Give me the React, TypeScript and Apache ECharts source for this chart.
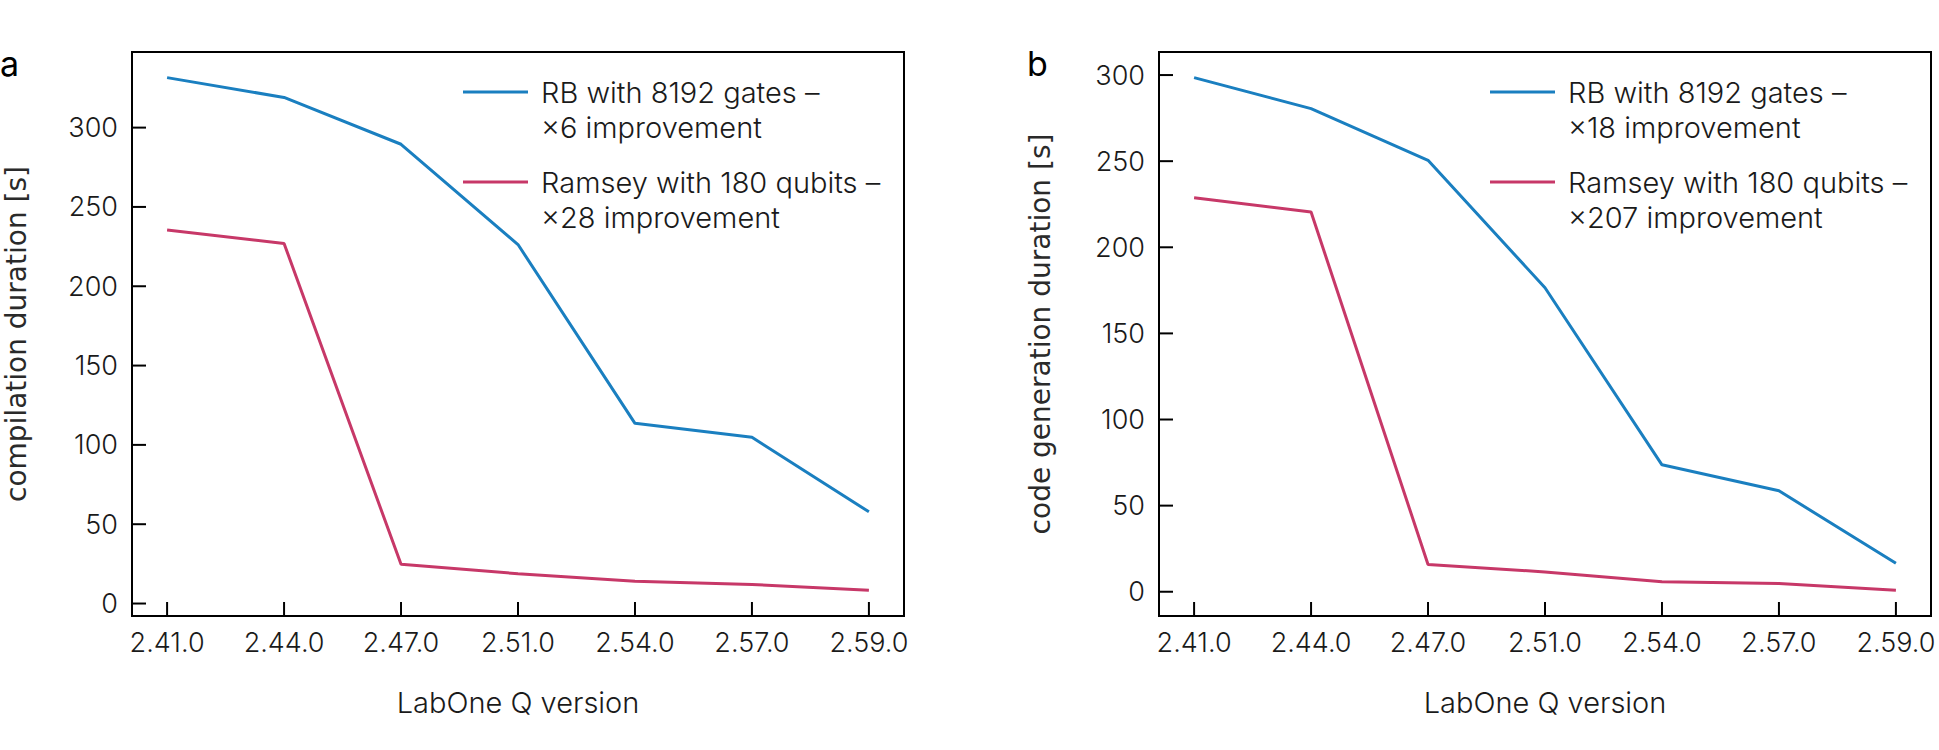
import React, { useEffect, useRef } from "react";
import * as echarts from "echarts";

const versions = ["2.41.0", "2.44.0", "2.47.0", "2.51.0", "2.54.0", "2.57.0", "2.59.0"];
const compileRB = [331.5, 319, 289.5, 226.3, 113.6, 104.8, 57.8];
const compileRamsey = [235.5, 227, 24.7, 18.8, 14, 12, 8.3];
const codegenRB = [298.5, 280.5, 250.5, 176.5, 73.7, 58.6, 16.5];
const codegenRamsey = [228.8, 220.5, 15.8, 11.5, 5.8, 4.8, 0.8];
const yTicks = [0, 50, 100, 150, 200, 250, 300];
const legendA = ["RB with 8192 gates –\n×6 improvement", "Ramsey with 180 qubits –\n×28 improvement"];
const legendB = ["RB with 8192 gates –\n×18 improvement", "Ramsey with 180 qubits –\n×207 improvement"];
const yNames = ["compilation duration [s]", "code generation duration [s]"];
const xName = "LabOne Q version";
const panelLabels = ["a", "b"];

const BLUE = "#1a7fc0";
const RED = "#c73868";
const FONT = "Inter, Roboto, sans-serif";
const YFONT = "'DejaVu Sans', sans-serif";
const TXT = "#1a1a1a";
const TICK_LEN = 14;

function range(a: number[], b: number[]) {
  const all = a.concat(b);
  const mn = Math.min(...all);
  const mx = Math.max(...all);
  const m = (mx - mn) * 0.05;
  return [mn - m, mx + m];
}

export default function App() {
  const ref = useRef<HTMLDivElement>(null);
  useEffect(() => {
    if (!ref.current) return;
    const chart = echarts.init(ref.current, undefined, { renderer: "svg" });
    const panels = [
      { left: 132, rb: compileRB, ram: compileRamsey, names: legendA, yName: yNames[0], gap: 102 },
      { left: 1159, rb: codegenRB, ram: codegenRamsey, names: legendB, yName: yNames[1], gap: 105 },
    ];
    const grids: any[] = [];
    const xAxes: any[] = [];
    const yAxes: any[] = [];
    const series: any[] = [];
    const legends: any[] = [];
    const ranges: number[][] = [];
    const xTicks = versions.map((_, i) => i);
    panels.forEach((p, k) => {
      grids.push({
        left: p.left, top: 52, width: 772, height: 564,
        show: true, borderColor: "#000", borderWidth: 2, backgroundColor: "transparent",
      });
      xAxes.push({
        gridIndex: k, type: "value", min: -0.3, max: 6.3,
        axisLine: { show: false, onZero: false },
        splitLine: { show: false },
        axisTick: { show: false },
        axisLabel: {
          customValues: xTicks, formatter: (v: number) => versions[Math.round(v)] ?? "",
          fontFamily: FONT, fontSize: 27, fontWeight: 300, color: TXT, margin: 13,
        },
        name: xName, nameLocation: "middle", nameGap: 72,
        nameTextStyle: { fontFamily: FONT, fontSize: 29, fontWeight: 300, color: TXT },
      });
      const [mn, mx] = range(p.rb, p.ram);
      ranges.push([mn, mx]);
      yAxes.push({
        gridIndex: k, type: "value", min: mn, max: mx,
        axisLine: { show: false, onZero: false },
        splitLine: { show: false },
        axisTick: { show: false },
        axisLabel: {
          customValues: yTicks, fontFamily: FONT, fontSize: 27, fontWeight: 300, color: TXT, margin: 14,
        },
        name: p.yName, nameLocation: "middle", nameGap: p.gap,
        nameTextStyle: { fontFamily: YFONT, fontSize: 28, fontWeight: "normal", color: "#2a2a2a" },
      });
      [p.rb, p.ram].forEach((arr, j) => {
        series.push({
          type: "line", name: p.names[j], xAxisIndex: k, yAxisIndex: k,
          data: arr.map((v, i) => [xTicks[i], v]), symbol: "none",
          lineStyle: { width: 3, color: j === 0 ? BLUE : RED },
          itemStyle: { color: j === 0 ? BLUE : RED },
        });
        legends.push({
          data: [p.names[j]], left: p.left + 331, top: 92 - 52.5 + j * 90,
          orient: "vertical", padding: 0, icon: "rect", itemWidth: 65, itemHeight: 3,
          selectedMode: false,
          formatter: (name: string) => "\n" + name,
          textStyle: { fontFamily: FONT, fontSize: 29, fontWeight: 300, color: TXT, lineHeight: 35, padding: [0, 0, 0, 8] },
        });
      });
    });
    const labels = panelLabels.map((t, i) => ({
      type: "text", left: i === 0 ? 0 : 1027, top: 46,
      style: { text: t, fontFamily: FONT, fontSize: 34, fill: "#000" },
    }));
    chart.setOption({
      animation: false,
      backgroundColor: "#fff",
      grid: grids,
      xAxis: xAxes,
      yAxis: yAxes,
      series,
      legend: legends,
      graphic: labels,
    });
    // inside ticks, positioned through the axes' own scales
    const ticks: any[] = [];
    panels.forEach((_, k) => {
      const [ymin] = ranges[k];
      yTicks.forEach((v) => {
        const [x, y] = chart.convertToPixel({ gridIndex: k } as any, [-0.3, v]) as number[];
        ticks.push({
          type: "line", z: 100, silent: true,
          shape: { x1: x, y1: y, x2: x + TICK_LEN, y2: y },
          style: { stroke: "#000", lineWidth: 2 },
        });
      });
      xTicks.forEach((v) => {
        const [x, y] = chart.convertToPixel({ gridIndex: k } as any, [v, ymin]) as number[];
        ticks.push({
          type: "line", z: 100, silent: true,
          shape: { x1: x, y1: y, x2: x, y2: y - TICK_LEN },
          style: { stroke: "#000", lineWidth: 2 },
        });
      });
    });
    chart.setOption({ graphic: labels.concat(ticks) }, { replaceMerge: ["graphic"] });
    return () => chart.dispose();
  }, []);
  return (
    <div
      ref={ref}
      style={{ position: "absolute", left: 0, top: 0, width: 1939, height: 750 }}
    />
  );
}
